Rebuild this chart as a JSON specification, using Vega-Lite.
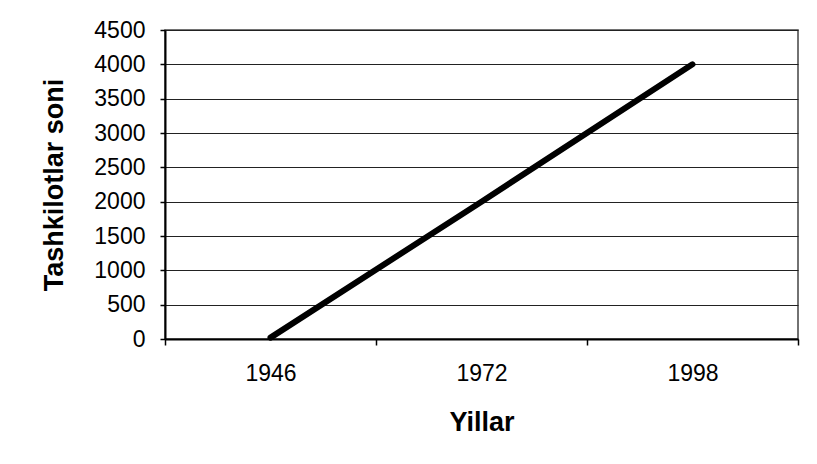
{
  "$schema": "https://vega.github.io/schema/vega-lite/v6.json",
  "width": 633,
  "height": 309,
  "autosize": {"type": "none"},
  "padding": {"left": 165, "top": 30, "right": 19, "bottom": 125},
  "background": "white",
  "config": {
    "view": {"stroke": "#444", "strokeWidth": 1.5},
    "font": "Liberation Sans"
  },
  "data": {
    "values": [
      {"year": 1946, "count": 20},
      {"year": 1972, "count": 2000},
      {"year": 1998, "count": 4000}
    ]
  },
  "mark": {"type": "line", "color": "black", "strokeWidth": 6, "strokeCap": "round"},
  "encoding": {
    "x": {
      "field": "year",
      "type": "quantitative",
      "scale": {"domain": [1933, 2011], "nice": false, "zero": false},
      "axis": {
        "title": "Yillar",
        "titleFont": "Liberation Sans",
        "titleFontSize": 27,
        "titleFontWeight": "bold",
        "titleColor": "black",
        "titlePadding": 24,
        "values": [1933, 1946, 1959, 1972, 1985, 1998, 2011],
        "labelExpr": "(datum.value-1933)%26==13 ? ('' + datum.value) : ''",
        "labelFontSize": 23,
        "labelColor": "black",
        "labelPadding": 17,
        "labelFlush": false,
        "labelOverlap": false,
        "tickSize": 6,
        "tickColor": "black",
        "tickWidth": 1.5,
        "tickOpacity": {"condition": {"test": "(datum.value-1933)%26==13", "value": 0}, "value": 1},
        "domainColor": "black",
        "domainWidth": 2,
        "grid": false
      }
    },
    "y": {
      "field": "count",
      "type": "quantitative",
      "scale": {"domain": [0, 4500], "nice": false},
      "axis": {
        "title": "Tashkilotlar soni",
        "titleFont": "Liberation Sans",
        "titleFontSize": 27,
        "titleFontWeight": "bold",
        "titleColor": "black",
        "titlePadding": 25,
        "values": [0, 500, 1000, 1500, 2000, 2500, 3000, 3500, 4000, 4500],
        "format": "d",
        "labelFontSize": 23,
        "labelColor": "black",
        "labelPadding": 15,
        "tickSize": 5,
        "tickColor": "black",
        "tickWidth": 1.5,
        "domainColor": "black",
        "domainWidth": 2,
        "grid": true,
        "gridColor": "#222",
        "gridWidth": 1.2
      }
    }
  }
}
